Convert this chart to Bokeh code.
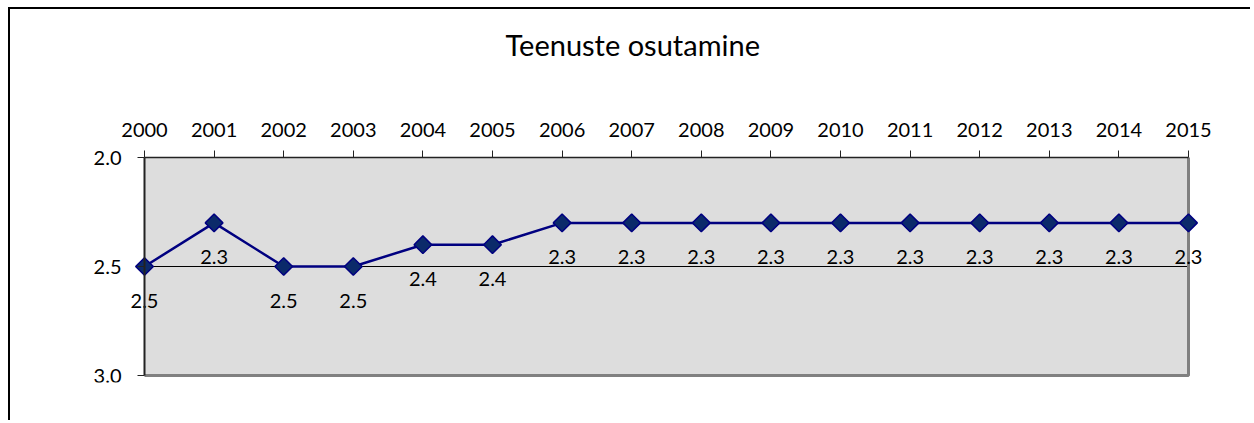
import math
from bokeh.plotting import figure
from bokeh.models import Range1d, FixedTicker, Title, NumeralTickFormatter
from bokeh.embed import file_html
from bokeh.resources import INLINE
from bokeh.core.properties import value

years = list(range(2000, 2016))
values = [2.5, 2.3, 2.5, 2.5, 2.4, 2.4, 2.3, 2.3, 2.3, 2.3, 2.3, 2.3, 2.3, 2.3, 2.3, 2.3]
labels = ["2.5", "2.3", "2.5", "2.5", "2.4", "2.4", "2.3", "2.3", "2.3", "2.3",
          "2.3", "2.3", "2.3", "2.3", "2.3", "2.3"]
y_ticks = [2.0, 2.5, 3.0]
title_text = "Teenuste osutamine"

FONT = "Lato"

# pixel layout of the canvas
W, H = 1250, 420
AX_L, AX_R, AX_T, AX_B = 144, 1188, 157, 375     # where the data area sits
FR_L, FR_R, FR_T, FR_B = 80, 1216, 66, 382       # drawing frame (bigger, holds the tick labels)

x0, x1 = years[0], years[-1]
y0, y1 = y_ticks[0], y_ticks[-1]
ppx = (AX_R - AX_L) / (x1 - x0)
ppy = (AX_B - AX_T) / (y1 - y0)
x_range = Range1d(x0 - (AX_L - FR_L) / ppx, x1 + (FR_R - AX_R) / ppx)
y_range = Range1d(y1 + (FR_B - AX_B) / ppy, y0 - (AX_T - FR_T) / ppy)

p = figure(width=W, height=H, output_backend="svg", toolbar_location=None,
           x_range=x_range, y_range=y_range, x_axis_location="above",
           min_border_left=FR_L, min_border_right=W - FR_R,
           min_border_top=FR_T, min_border_bottom=H - FR_B,
           background_fill_color=None, border_fill_color=None,
           styles={"background": "linear-gradient(#000,#000) 8px 7px / 2px 100% no-repeat, "
                                 "linear-gradient(#000,#000) 8px 7px / 100% 2px no-repeat, #ffffff"})

p.title = Title(text=title_text, align="left", offset=505 - FR_L, standoff=10,
                text_font=FONT, text_font_size="29px", text_font_style="normal",
                text_color="black")
p.outline_line_color = None
p.grid.visible = False

# axes, drawn at the edges of the data area
p.xaxis.ticker = FixedTicker(ticks=years)
p.yaxis.ticker = FixedTicker(ticks=y_ticks)
p.yaxis.formatter = NumeralTickFormatter(format="0.0")
p.xaxis.fixed_location = y0
p.yaxis.fixed_location = x0
p.xaxis.bounds = (x0, x1)
p.yaxis.bounds = (y0, y1)
for ax in (p.xaxis[0], p.yaxis[0]):
    ax.major_label_text_font = FONT
    ax.major_label_text_font_size = "20px"
    ax.major_label_text_color = "black"
    ax.major_tick_out = 7
    ax.major_tick_in = 0
    ax.minor_tick_out = 0
    ax.minor_tick_in = 0
    ax.major_tick_line_color = "#222222"
    ax.axis_line_color = "#222222"
p.xaxis.axis_line_width = 1.5
p.yaxis.axis_line_width = 2
p.xaxis.major_label_standoff = 14
p.yaxis.major_label_standoff = 16

# plot area background, gridline and shadow edges
p.quad(left=[x0], right=[x1], top=[y0], bottom=[y1], fill_color="#dddddd", line_color=None)
p.line([x0, x1], [y_ticks[1], y_ticks[1]], line_color="black", line_width=1)
p.line([x1, x1, x0], [y0, y1, y1], line_color="#808080", line_width=3)

# series
p.line(years, values, line_color="#000080", line_width=2.5)
p.scatter(years, values, marker="square", angle=math.pi / 4, size=12.5,
          fill_color="#0b2a6a", line_color="#000080", line_width=1.5)
p.text(years, values, text=labels, text_align="center", text_baseline="middle",
       y_offset=34, text_font=value(FONT), text_font_size="20px", text_color="black")

open("out.html", "w").write(file_html(p, INLINE))
